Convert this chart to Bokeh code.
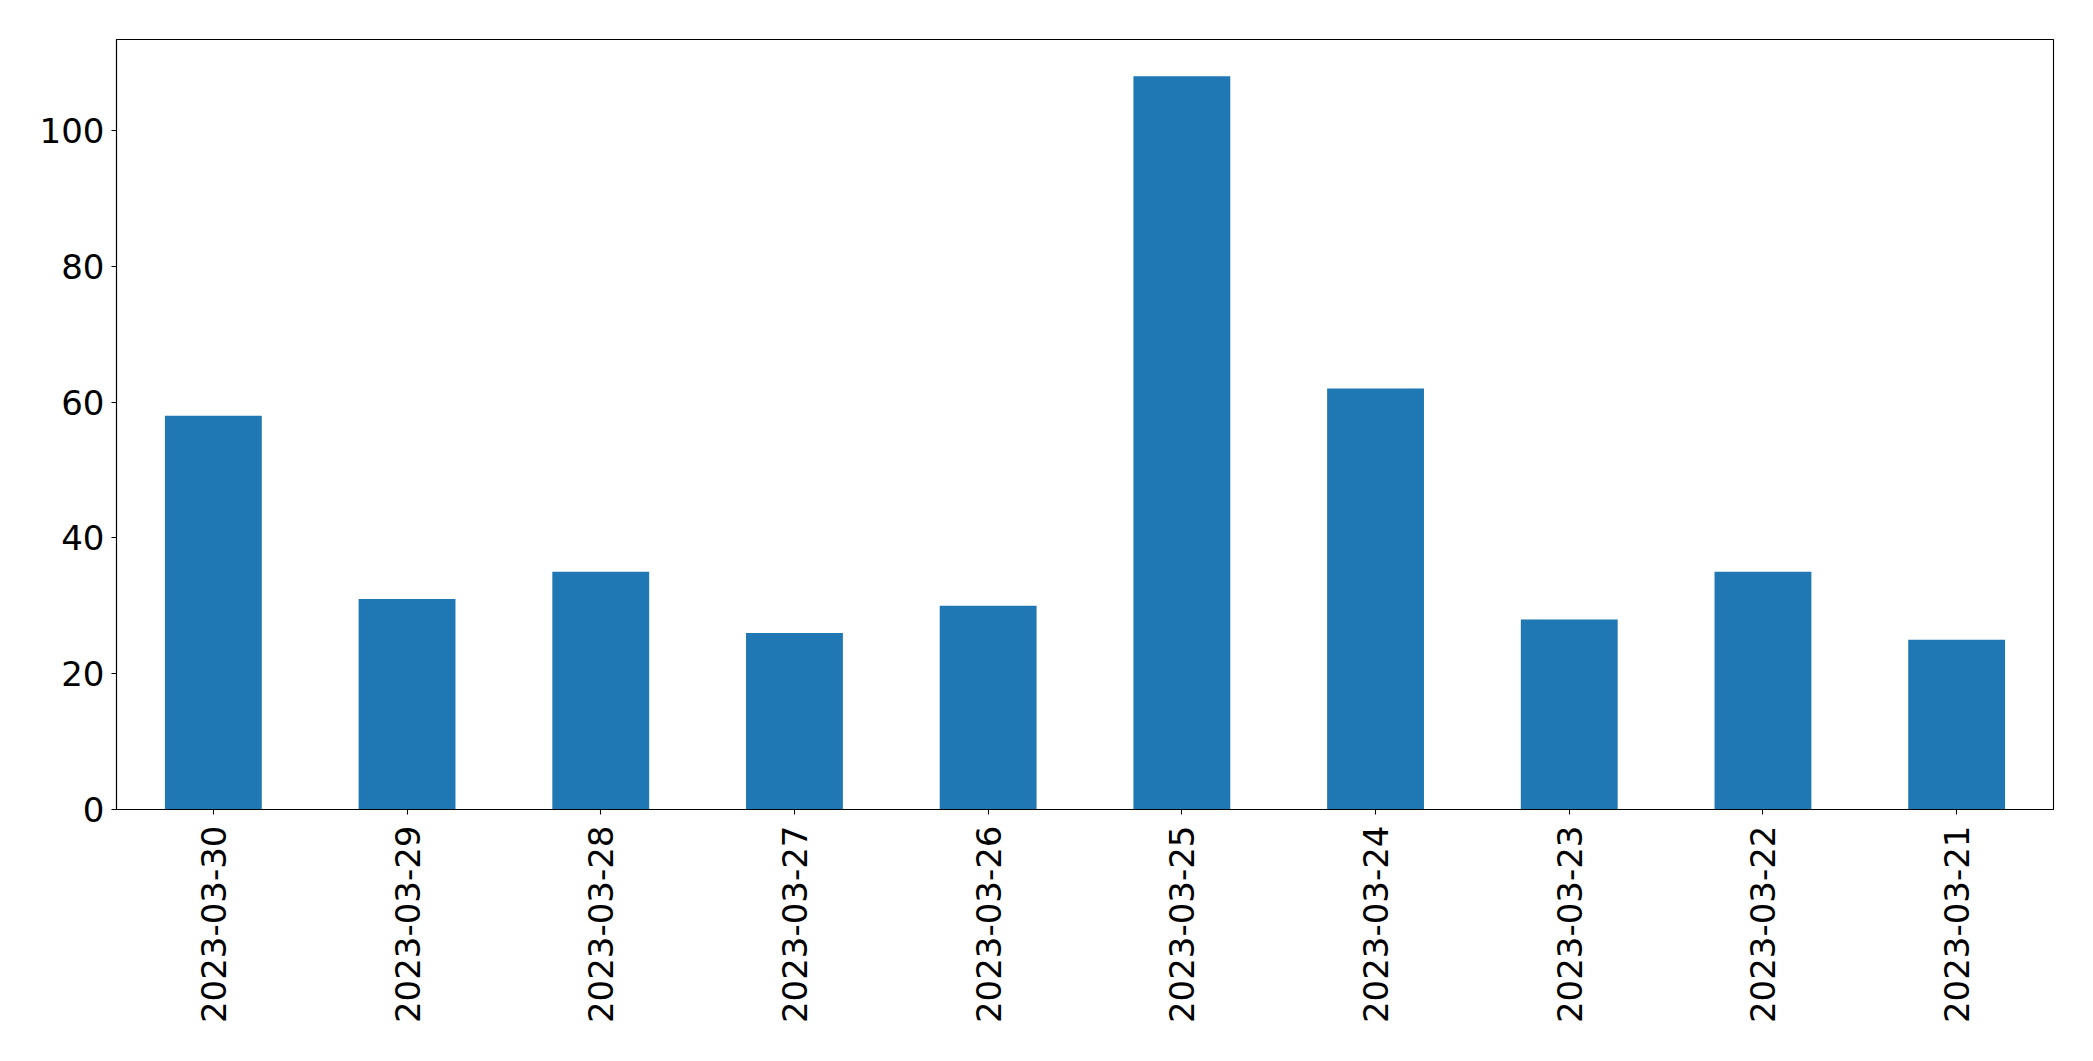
import math
from bokeh.plotting import figure
from bokeh.models import ColumnDataSource, FactorRange, Range1d, SingleIntervalTicker
from bokeh.embed import file_html
from bokeh.resources import INLINE

dates = ["2023-03-30", "2023-03-29", "2023-03-28", "2023-03-27", "2023-03-26",
         "2023-03-25", "2023-03-24", "2023-03-23", "2023-03-22", "2023-03-21"]
counts = [58, 31, 35, 26, 30, 108, 62, 28, 35, 25]

src = ColumnDataSource(data=dict(date=dates, count=counts))

p = figure(width=2085, height=1053, output_backend="svg", toolbar_location=None,
           x_range=FactorRange(factors=dates, range_padding=0),
           y_range=Range1d(0, max(counts) * 1.05),
           min_border_left=116, min_border_top=39, min_border_right=32, min_border_bottom=244)

p.vbar(x="date", top="count", width=0.5, source=src, color="#1f77b4", line_color=None)

p.xgrid.visible = False
p.ygrid.visible = False
p.outline_line_color = "black"
p.outline_line_width = 1.1
p.outline_line_alpha = 1

p.yaxis.ticker = SingleIntervalTicker(interval=20)
for ax in (p.xaxis[0], p.yaxis[0]):
    ax.axis_line_color = "black"
    ax.axis_line_width = 1.1
    ax.major_tick_line_color = "black"
    ax.major_tick_line_width = 1.1
    ax.major_tick_out = 5
    ax.major_tick_in = 0
    ax.minor_tick_line_color = None
    ax.major_label_text_font = "DejaVu Sans"
    ax.major_label_text_font_size = "34px"
    ax.major_label_text_color = "black"

p.yaxis.major_label_standoff = 7
p.xaxis.major_label_standoff = 11
p.xaxis.major_label_orientation = math.pi / 2

open("out.html", "w").write(file_html(p, INLINE))
